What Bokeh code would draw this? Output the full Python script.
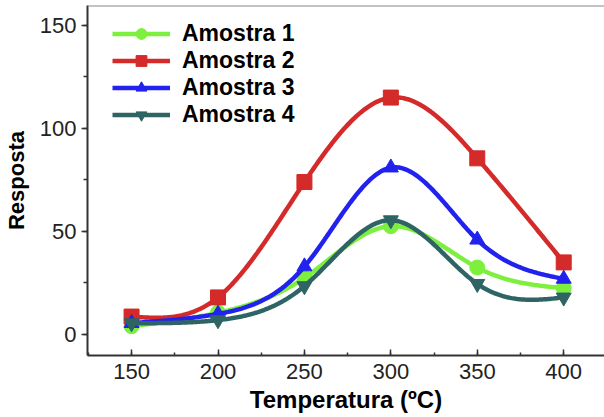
import numpy as np
from bokeh.plotting import figure
from bokeh.models import Range1d, SingleIntervalTicker, Span, Legend, LegendItem
from bokeh.embed import file_html
from bokeh.resources import INLINE

temps = [150, 200, 250, 300, 350, 400]
amostra1 = [4, 10.6, 27.5, 52.6, 32.5, 22.5]
amostra2 = [8.7, 18, 74, 115, 85.5, 35]
amostra3 = [5.5, 10, 33, 81, 46, 27]
amostra4 = [5.5, 7, 23.5, 55.5, 24.6, 18]
names = ["Amostra 1", "Amostra 2", "Amostra 3", "Amostra 4"]
colors = ["#7df03e", "#d42a2a", "#2222ee", "#2f6464"]
markers = ["circle", "square", "triangle", "inverted_triangle"]


def natural_spline(x, y, n=300):
    x = np.asarray(x, float)
    y = np.asarray(y, float)
    k = len(x)
    h = np.diff(x)
    A = np.zeros((k, k))
    b = np.zeros(k)
    A[0, 0] = 1
    A[-1, -1] = 1
    for i in range(1, k - 1):
        A[i, i - 1] = h[i - 1]
        A[i, i] = 2 * (h[i - 1] + h[i])
        A[i, i + 1] = h[i]
        b[i] = 6 * ((y[i + 1] - y[i]) / h[i] - (y[i] - y[i - 1]) / h[i - 1])
    M = np.linalg.solve(A, b)
    xs = np.linspace(x[0], x[-1], n)
    ys = np.empty_like(xs)
    for j, xv in enumerate(xs):
        i = min(np.searchsorted(x, xv, side="right") - 1, k - 2)
        t1 = x[i + 1] - xv
        t0 = xv - x[i]
        ys[j] = (M[i] * t1 ** 3 / (6 * h[i]) + M[i + 1] * t0 ** 3 / (6 * h[i])
                 + (y[i] / h[i] - M[i] * h[i] / 6) * t1
                 + (y[i + 1] / h[i] - M[i + 1] * h[i] / 6) * t0)
    return xs, ys


p = figure(width=604, height=417, output_backend="svg", toolbar_location=None,
           x_range=Range1d(124.5, 423.6), y_range=Range1d(-10.2, 159.7),
           min_border_left=85, min_border_right=0, min_border_top=5, min_border_bottom=62)
p.outline_line_color = None
p.grid.grid_line_color = None
p.background_fill_color = "white"
p.border_fill_color = "white"

items = []
for name, col, mk, ys in zip(names, colors, markers, [amostra1, amostra2, amostra3, amostra4]):
    sx, sy = natural_spline(temps, ys)
    r1 = p.line(sx, sy, line_color=col, line_width=4.5)
    r2 = p.scatter(temps, ys, marker=mk, size=15, fill_color=col, line_color=col)
    items.append(LegendItem(label=name, renderers=[r1, r2]))

legend = Legend(items=items, location=(25, 227))
legend.background_fill_alpha = 0
legend.border_line_color = None
legend.padding = 0
legend.margin = 0
legend.spacing = 0
legend.label_height = 27
legend.glyph_height = 27
legend.glyph_width = 58
legend.label_standoff = 12
legend.label_text_font = "Liberation Sans"
legend.label_text_font_style = "bold"
legend.label_text_font_size = "23px"
legend.label_text_color = "black"
p.add_layout(legend, "center")

top = Span(location=159.7, dimension="width", line_color="#888888", line_width=2)
p.add_layout(top)

p.xaxis.ticker = SingleIntervalTicker(interval=50, num_minor_ticks=2)
p.yaxis.ticker = SingleIntervalTicker(interval=50, num_minor_ticks=2)
for ax in (p.xaxis[0], p.yaxis[0]):
    ax.axis_line_color = "#333333"
    ax.axis_line_width = 2
    ax.major_tick_line_color = "#333333"
    ax.major_tick_line_width = 1.5
    ax.minor_tick_line_color = "#333333"
    ax.minor_tick_line_width = 1.5
    ax.major_label_text_font = "Liberation Sans"
    ax.major_label_text_font_size = "22px"
    ax.major_label_text_color = "#222222"
    ax.axis_label_text_font = "Liberation Sans"
    ax.axis_label_text_font_style = "bold"
    ax.axis_label_text_color = "black"

p.yaxis.major_tick_out = 6
p.yaxis.major_tick_in = 0
p.yaxis.minor_tick_out = 4
p.yaxis.minor_tick_in = 0
p.xaxis.major_tick_out = 0
p.xaxis.major_tick_in = 6
p.xaxis.minor_tick_out = 0
p.xaxis.minor_tick_in = 3

p.xaxis.axis_label = "Temperatura (ºC)"
p.yaxis.axis_label = "Resposta"
p.xaxis.axis_label_text_font_size = "24px"
p.yaxis.axis_label_text_font_size = "22px"
p.xaxis.axis_label_standoff = 4
p.yaxis.axis_label_standoff = 8
p.xaxis.major_label_standoff = 8
p.yaxis.major_label_standoff = 5

open("out.html", "w").write(file_html(p, INLINE))
